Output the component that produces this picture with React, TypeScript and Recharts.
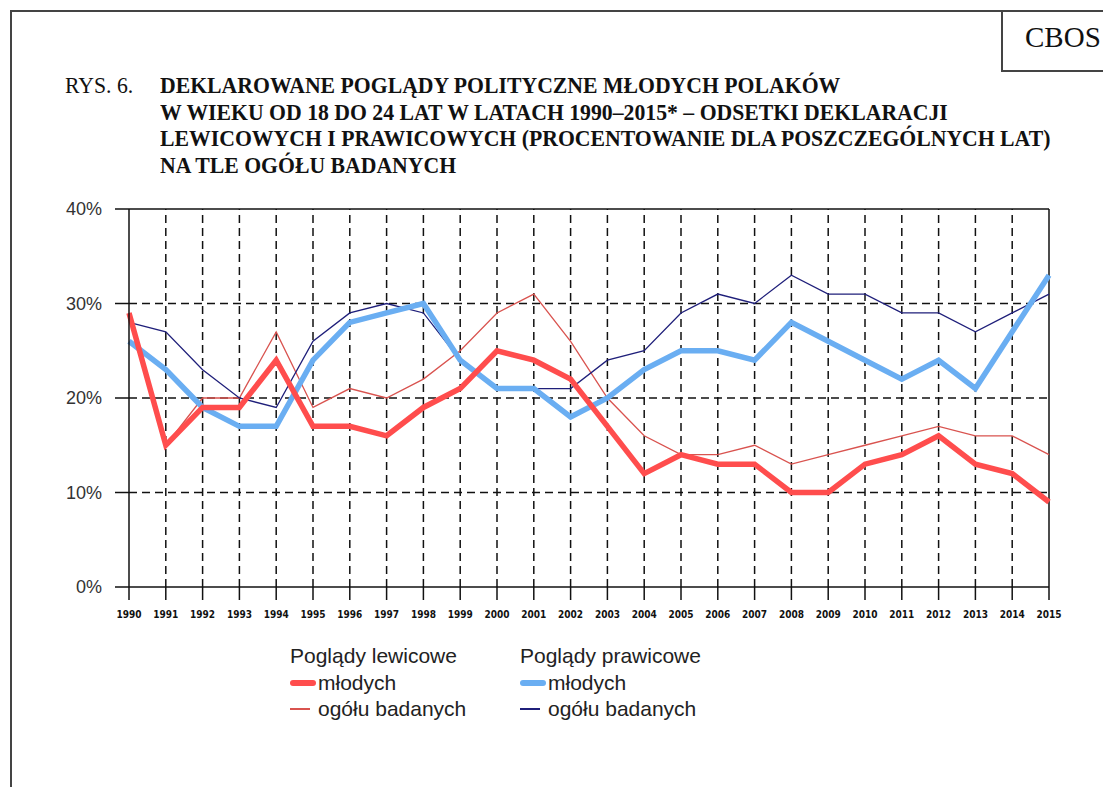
import { LineChart, Line, XAxis, YAxis, ReferenceLine } from "recharts";

const years = [
  1990, 1991, 1992, 1993, 1994, 1995, 1996, 1997, 1998, 1999, 2000, 2001, 2002,
  2003, 2004, 2005, 2006, 2007, 2008, 2009, 2010, 2011, 2012, 2013, 2014, 2015,
];
const lewicoweMlodych = [29, 15, 19, 19, 24, 17, 17, 16, 19, 21, 25, 24, 22, 17, 12, 14, 13, 13, 10, 10, 13, 14, 16, 13, 12, 9];
const lewicoweOgolu = [29, 15, 20, 20, 27, 19, 21, 20, 22, 25, 29, 31, 26, 20, 16, 14, 14, 15, 13, 14, 15, 16, 17, 16, 16, 14];
const prawicoweMlodych = [26, 23, 19, 17, 17, 24, 28, 29, 30, 24, 21, 21, 18, 20, 23, 25, 25, 24, 28, 26, 24, 22, 24, 21, 27, 33];
const prawicoweOgolu = [28, 27, 23, 20, 19, 26, 29, 30, 29, 24, 21, 21, 21, 24, 25, 29, 31, 30, 33, 31, 31, 29, 29, 27, 29, 31];
const yTicks = [0, 10, 20, 30, 40];
const dashedY = [10, 20, 30];
const dashedX = years.slice(1, -1);

const titleLines = [
  "DEKLAROWANE POGLĄDY POLITYCZNE MŁODYCH POLAKÓW",
  "W WIEKU OD 18 DO 24 LAT W LATACH 1990–2015* – ODSETKI DEKLARACJI",
  "LEWICOWYCH I PRAWICOWYCH (PROCENTOWANIE DLA POSZCZEGÓLNYCH LAT)",
  "NA TLE OGÓŁU BADANYCH",
];

const data = years.map((y, i) => ({
  year: y,
  lewM: lewicoweMlodych[i],
  lewO: lewicoweOgolu[i],
  prawM: prawicoweMlodych[i],
  prawO: prawicoweOgolu[i],
}));

const RED = "#ff4d4d";
const RED_THIN = "#d9534f";
const BLUE = "#6aaef2";
const NAVY = "#1f1f7a";

const serif = "'Liberation Serif', 'Times New Roman', serif";
const sans = "'Liberation Sans', Arial, sans-serif";

function YearTick(props: any) {
  const { x, y, payload } = props;
  return (
    <text
      x={x}
      y={y + 16}
      textAnchor="middle"
      fontSize={10}
      fontWeight="bold"
      fontFamily="'DejaVu Sans Condensed', 'Liberation Sans Narrow', sans-serif"
      fill="#111"
    >
      {payload.value}
    </text>
  );
}

function LegendItem({ color, thick, label, x, y }: any) {
  return (
    <div style={{ position: "absolute", left: x, top: y, display: "flex", alignItems: "center" }}>
      <div
        style={{
          width: thick ? 26 : 20,
          height: thick ? 6 : 1.5,
          borderRadius: thick ? 3 : 0,
          background: color,
          marginRight: thick ? 2 : 8,
        }}
      />
      <span style={{ fontSize: 21, fontFamily: sans, color: "#222" }}>{label}</span>
    </div>
  );
}

export default function App() {
  return (
    <div style={{ position: "absolute", left: 0, top: 0, width: 1103, height: 787, background: "#fff", overflow: "hidden" }}>
      {/* frame */}
      <div style={{ position: "absolute", left: 10, top: 10, width: 1093, height: 777, borderLeft: "2px solid #444", borderTop: "2px solid #444" }} />
      <div
        style={{
          position: "absolute",
          left: 1001,
          top: 10,
          width: 102,
          height: 60,
          borderLeft: "2px solid #444",
          borderBottom: "2px solid #444",
        }}
      />
      <div style={{ position: "absolute", left: 1025, top: 21, fontFamily: serif, fontSize: 29, color: "#111" }}>CBOS</div>

      {/* title */}
      <div
        style={{
          position: "absolute",
          left: 65,
          top: 73,
          fontFamily: serif,
          fontSize: 23,
          color: "#111",
          whiteSpace: "nowrap",
          transform: "scaleX(0.945)",
          transformOrigin: "left top",
        }}
      >
        RYS. 6.
      </div>
      {titleLines.map((t, i) => (
        <div
          key={i}
          style={{
            position: "absolute",
            left: 160,
            top: 73 + i * 26.7,
            fontFamily: serif,
            fontWeight: "bold",
            fontSize: 23,
            color: "#111",
            whiteSpace: "nowrap",
            transform: "scaleX(0.945)",
            transformOrigin: "left top",
          }}
        >
          {t}
        </div>
      ))}

      <div style={{ position: "absolute", left: 0, top: 0 }}>
        <LineChart width={1103} height={787} data={data} margin={{ top: 209, right: 54, bottom: 170, left: 0 }}>
          <XAxis
            dataKey="year"
            type="number"
            domain={[1990, 2015]}
            ticks={years}
            interval={0}
            height={30}
            tickSize={13}
            tick={<YearTick />}
            axisLine={{ stroke: "#111", strokeWidth: 1.5 }}
            tickLine={{ stroke: "#111", strokeWidth: 1.5 }}
          />
          <YAxis
            domain={[0, 40]}
            ticks={yTicks}
            width={129}
            tickSize={14}
            tickMargin={13}
            tickFormatter={(v: number) => `${v}%`}
            tick={{ fontSize: 18, fontFamily: sans, fill: "#333" }}
            axisLine={{ stroke: "#111", strokeWidth: 1.5 }}
            tickLine={{ stroke: "#111", strokeWidth: 1.5 }}
          />
          {dashedY.map((v) => (
            <ReferenceLine key={`h${v}`} y={v} stroke="#111" strokeWidth={1.5} strokeDasharray="8 5" />
          ))}
          {dashedX.map((v) => (
            <ReferenceLine key={`v${v}`} x={v} stroke="#111" strokeWidth={1.5} strokeDasharray="8 5" />
          ))}
          <ReferenceLine y={40} stroke="#111" strokeWidth={1.5} />
          <ReferenceLine x={2015} stroke="#111" strokeWidth={1.5} />
          <Line dataKey="lewO" stroke={RED_THIN} strokeWidth={1.3} dot={false} isAnimationActive={false} />
          <Line dataKey="prawO" stroke={NAVY} strokeWidth={1.3} dot={false} isAnimationActive={false} />
          <Line dataKey="prawM" stroke={BLUE} strokeWidth={5.5} dot={false} isAnimationActive={false} />
          <Line dataKey="lewM" stroke={RED} strokeWidth={5.5} dot={false} isAnimationActive={false} />
        </LineChart>
      </div>

      {/* legend */}
      <div style={{ position: "absolute", left: 290, top: 644, fontSize: 21, fontFamily: sans, color: "#222" }}>Poglądy lewicowe</div>
      <LegendItem color={RED} thick label="młodych" x={290} y={671} />
      <LegendItem color={RED_THIN} label="ogółu badanych" x={290} y={697} />
      <div style={{ position: "absolute", left: 520, top: 644, fontSize: 21, fontFamily: sans, color: "#222" }}>Poglądy prawicowe</div>
      <LegendItem color={BLUE} thick label="młodych" x={520} y={671} />
      <LegendItem color={NAVY} label="ogółu badanych" x={520} y={697} />
    </div>
  );
}
